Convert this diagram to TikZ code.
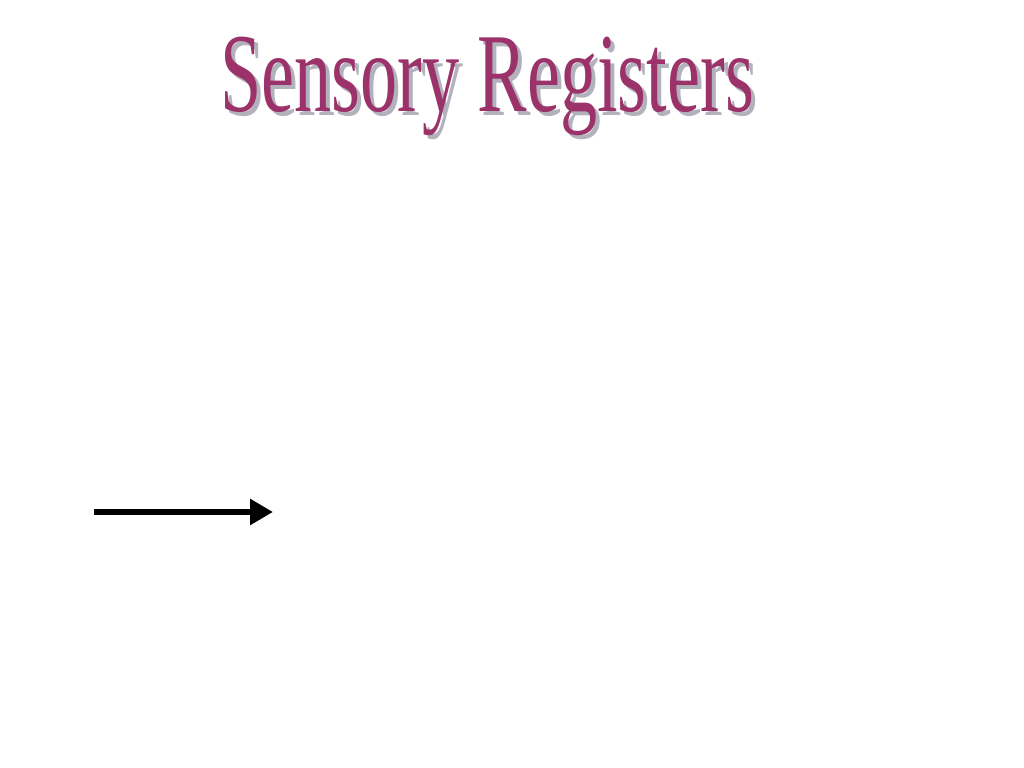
\documentclass[tikz,border=0pt]{standalone}
\usepackage{fontspec}
\setmainfont{Liberation Serif}
\usepackage{xcolor}
\definecolor{srmagenta}{RGB}{155,50,105}
\definecolor{srshadow}{RGB}{178,178,188}
\usetikzlibrary{arrows.meta, positioning}

\begin{document}
\begin{tikzpicture}
  % Canvas
  \useasboundingbox (0,0) rectangle (10.24,7.68);

  % --- Title (WordArt with shadow) ---
  \tikzset{titletext/.style={font=\fontsize{32}{32}\selectfont, inner sep=0pt, anchor=base, xscale=0.66}}
  \node[titletext, srshadow] (titleshadow) at (4.91,6.52) {Sensory Registers};
  \node[titletext, srmagenta] (title) at (4.87,6.56) {Sensory Registers};

  % --- Arrow ---
  \coordinate (arrowstart) at (0.94,2.56);
  \coordinate (arrowend) at (2.73,2.56);
  \draw[line width=1.8pt, -{Triangle[length=0.23cm, width=0.25cm]}] (arrowstart) -- (arrowend);
\end{tikzpicture}
\end{document}
